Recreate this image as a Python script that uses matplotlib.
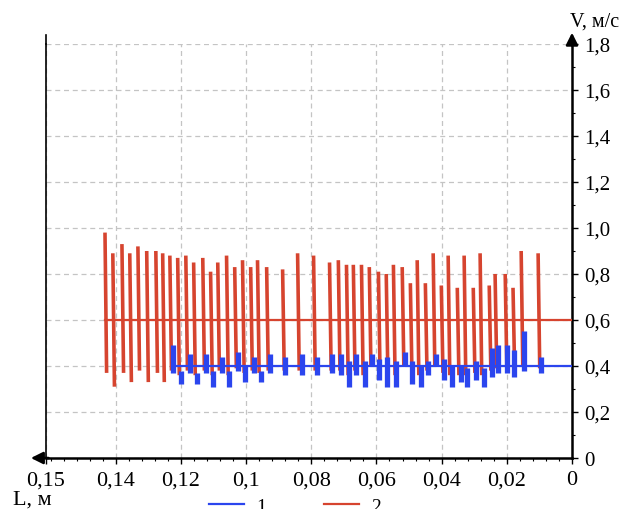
import numpy as np
import matplotlib.pyplot as plt
from matplotlib.ticker import MultipleLocator
from matplotlib.collections import LineCollection
from matplotlib.lines import Line2D

plt.rcParams['font.family'] = ['Liberation Serif', 'DejaVu Serif']

# series 2 (red): spike positions L (m), peak and bottom speed (m/s)
red_x = [0.1433, 0.1409, 0.1381, 0.1357, 0.1332, 0.1305, 0.1277, 0.1256, 0.1234, 0.1210,
         0.1185, 0.1161, 0.1133, 0.1109, 0.1087, 0.1060, 0.1035, 0.1011, 0.0986, 0.0965,
         0.0937, 0.0888, 0.0842, 0.0793, 0.0744, 0.0717, 0.0692, 0.0671, 0.0646, 0.0622,
         0.0594, 0.0570, 0.0548, 0.0521, 0.0496, 0.0475, 0.0450, 0.0426, 0.0401, 0.0380,
         0.0352, 0.0331, 0.0303, 0.0282, 0.0254, 0.0236, 0.0205, 0.0181, 0.0156, 0.0104]
red_hi = [0.98, 0.89, 0.93, 0.89, 0.92, 0.90, 0.90, 0.89, 0.88, 0.87,
          0.88, 0.85, 0.87, 0.81, 0.85, 0.88, 0.83, 0.86, 0.83, 0.86,
          0.83, 0.82, 0.89, 0.88, 0.85, 0.86, 0.84, 0.84, 0.84, 0.83,
          0.81, 0.80, 0.84, 0.83, 0.76, 0.86, 0.76, 0.89, 0.75, 0.88,
          0.74, 0.88, 0.74, 0.89, 0.75, 0.80, 0.80, 0.74, 0.90, 0.89]
red_lo = [0.37, 0.31, 0.37, 0.33, 0.38, 0.33, 0.37, 0.33, 0.38, 0.36,
          0.38, 0.36, 0.38, 0.36, 0.38, 0.36, 0.39, 0.37, 0.38, 0.37,
          0.38, 0.38, 0.38, 0.38, 0.38, 0.38, 0.36, 0.38, 0.36, 0.40,
          0.37, 0.36, 0.36, 0.40, 0.36, 0.36, 0.38, 0.40, 0.37, 0.36,
          0.36, 0.36, 0.37, 0.36, 0.38, 0.39, 0.39, 0.38, 0.40, 0.39]
red_mean = 0.6

# series 1 (blue)
blue_x = [0.1225, 0.1201, 0.1173, 0.1152, 0.1124, 0.1103, 0.1075, 0.1051, 0.1026, 0.1002,
          0.0977, 0.0953, 0.0928, 0.0882, 0.0830, 0.0781, 0.0735, 0.0708, 0.0683, 0.0662,
          0.0634, 0.0613, 0.0591, 0.0567, 0.0539, 0.0512, 0.0490, 0.0463, 0.0441, 0.0417,
          0.0392, 0.0368, 0.0340, 0.0322, 0.0294, 0.0270, 0.0245, 0.0227, 0.0199, 0.0178,
          0.0147, 0.0095]
blue_hi = [0.49, 0.38, 0.45, 0.37, 0.45, 0.38, 0.44, 0.38, 0.46, 0.40,
           0.44, 0.38, 0.45, 0.44, 0.45, 0.44, 0.45, 0.45, 0.42, 0.45,
           0.42, 0.45, 0.43, 0.44, 0.42, 0.46, 0.42, 0.40, 0.42, 0.45,
           0.43, 0.40, 0.40, 0.39, 0.42, 0.39, 0.48, 0.49, 0.49, 0.47,
           0.55, 0.44]
blue_lo = [0.37, 0.32, 0.37, 0.32, 0.37, 0.31, 0.37, 0.31, 0.38, 0.33,
           0.37, 0.33, 0.37, 0.36, 0.36, 0.36, 0.37, 0.36, 0.31, 0.36,
           0.31, 0.40, 0.34, 0.31, 0.31, 0.40, 0.32, 0.31, 0.36, 0.40,
           0.34, 0.31, 0.33, 0.31, 0.34, 0.31, 0.35, 0.37, 0.37, 0.35,
           0.38, 0.37]
blue_mean = 0.4

# the original axis is drawn a bit past 0.16 and its end is labelled 0,15
x_left = 0.1614
x_ticks = [x_left, 0.14, 0.12, 0.10, 0.08, 0.06, 0.04, 0.02, 0.0]
x_labels = ['0,15', '0,14', '0,12', '0,1', '0,08', '0,06', '0,04', '0,02', '0']
y_ticks = [0, 0.2, 0.4, 0.6, 0.8, 1.0, 1.2, 1.4, 1.6, 1.8]
y_labels = ['0', '0,2', '0,4', '0,6', '0,8', '1,0', '1,2', '1,4', '1,6', '1,8']

RED = '#d6442f'
BLUE = '#2b45ee'
slant = 0.0005  # spikes lean a little to the right going down

fig = plt.figure(figsize=(6.25, 5.1), dpi=100)
ax = fig.add_axes([0.0736, 0.1, 0.8416, 0.8118])

red_segs = [[(x, hi), (x - slant, lo)] for x, hi, lo in zip(red_x, red_hi, red_lo)]
ax.add_collection(LineCollection(red_segs, colors=RED, linewidths=2.6, zorder=2))
ax.vlines(blue_x, blue_lo, blue_hi, colors=BLUE, linewidth=3.8, zorder=3)
ax.plot([red_x[0], 0], [red_mean, red_mean], color=RED, lw=1.6, zorder=4)
ax.plot([blue_x[0], 0], [blue_mean, blue_mean], color=BLUE, lw=1.6, zorder=5)

ax.set_xlim(x_left, 0)
ax.set_ylim(0, 1.8)
ax.set_xticks(x_ticks)
ax.set_xticklabels(x_labels)
ax.set_yticks(y_ticks)
ax.set_yticklabels(y_labels)
ax.xaxis.set_minor_locator(MultipleLocator(0.004))
ax.yaxis.set_minor_locator(MultipleLocator(0.1))
ax.yaxis.tick_right()
ax.tick_params(which='major', direction='out', length=4, width=1, labelsize=15, pad=5)
ax.tick_params(which='minor', direction='out', length=2.5, width=0.8)
ax.tick_params(axis='x', labelsize=16)

ax.grid(True, which='major', color='#c4c4c4', linestyle=(0, (4, 3)), lw=0.9)
ax.set_axisbelow(True)

ax.spines['top'].set_visible(False)
ax.spines['left'].set_linewidth(1.2)
ax.spines['right'].set_linewidth(1.8)
ax.spines['bottom'].set_linewidth(1.8)
ax.plot([0, 0], [1, 1.022], transform=ax.transAxes, clip_on=False, color='k', lw=1.2)

# axis arrows
ax.annotate('', xy=(1, 1.034), xytext=(1, 0.99), xycoords='axes fraction',
            arrowprops=dict(arrowstyle='-|>', color='k', lw=1.8, mutation_scale=18))
ax.annotate('', xy=(-0.034, 0), xytext=(0.01, 0), xycoords='axes fraction',
            arrowprops=dict(arrowstyle='-|>', color='k', lw=1.8, mutation_scale=18))

fig.text(0.912, 0.957, 'V, м/с', fontsize=14.5, ha='left', va='center')
fig.text(0.021, 0.02, 'L, м', fontsize=16, ha='left', va='center')

handles = [Line2D([], [], color=BLUE, lw=1.6), Line2D([], [], color=RED, lw=1.6)]
fig.legend(handles, ['1', '2'], loc='center', bbox_to_anchor=(0.472, 0.006), ncol=2,
           frameon=False, fontsize=14, handlelength=1.8, columnspacing=3,
           handletextpad=0.6)

fig.savefig('out.png', dpi=100)
